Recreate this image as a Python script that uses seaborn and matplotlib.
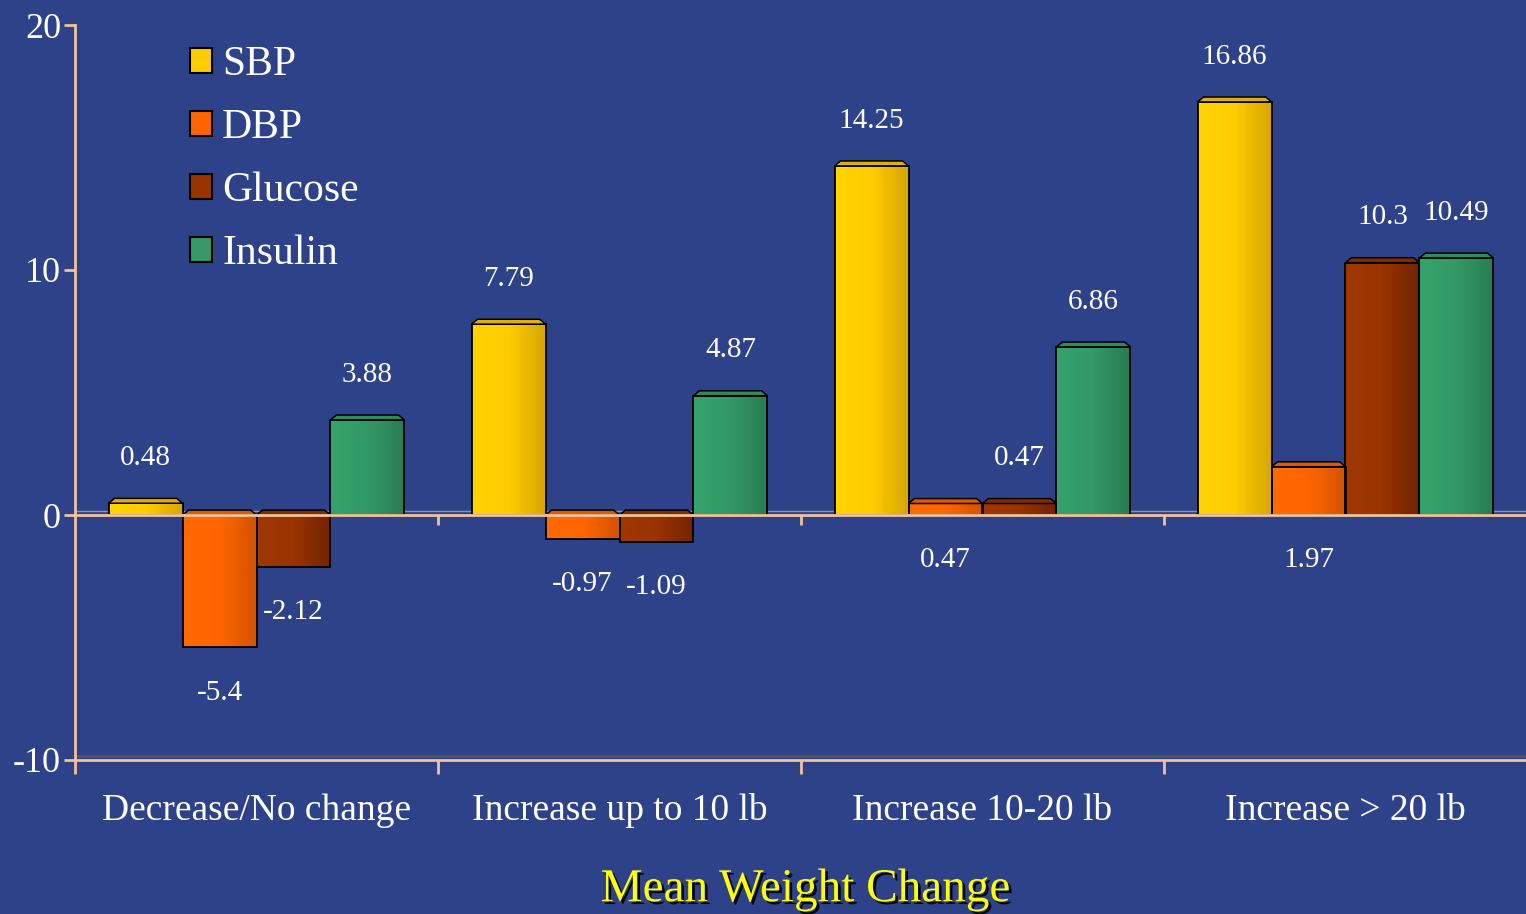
import numpy as np
import pandas as pd
import seaborn as sns
import matplotlib.pyplot as plt
import matplotlib.patheffects as pe
from matplotlib.patches import Patch, Polygon
from matplotlib.colors import LinearSegmentedColormap

# data
categories = ["Decrease/No change", "Increase up to 10 lb", "Increase 10-20 lb", "Increase > 20 lb"]
series = ["SBP", "DBP", "Glucose", "Insulin"]
sbp = [0.48, 7.79, 14.25, 16.86]
dbp = [-5.4, -0.97, 0.47, 1.97]
glucose = [-2.12, -1.09, 0.47, 10.3]
insulin = [3.88, 4.87, 6.86, 10.49]
y_ticks = [-10, 0, 10, 20]

# colours: flat colour for legend, left/right shades for the bar gradient
colors = ["#FFCC00", "#FF6600", "#993300", "#339966"]
left_shade = ["#FFD400", "#FF6A00", "#A03800", "#35A36C"]
right_shade = ["#D6A600", "#D45200", "#742300", "#287D52"]
cap_shade = ["#E0B000", "#E05A00", "#852B00", "#2E8B5C"]

bg = "#2D4288"
axis_col = "#F2C49A"
font = ["Liberation Serif", "DejaVu Serif"]

df = pd.DataFrame({
    "category": np.repeat(categories, len(series)),
    "series": series * len(categories),
    "value": np.array([sbp, dbp, glucose, insulin]).T.ravel(),
})

sns.set_theme(style="white")
plt.rcParams["font.family"] = font

W, H = 1526, 914
fig = plt.figure(figsize=(W / 100, H / 100), dpi=100)
fig.patch.set_facecolor(bg)
ax = fig.add_axes([75 / W, 154 / H, 1452 / W, 735 / H])
ax.set_facecolor(bg)

sns.barplot(data=df, x="category", y="value", hue="series", order=categories,
            hue_order=series, palette=colors, width=0.815, edgecolor="black",
            linewidth=1.3, legend=False, ax=ax, zorder=3)

# cylinder-ish shading on each bar and a small top cap
for i, container in enumerate(ax.containers):
    cmap = LinearSegmentedColormap.from_list(series[i], [left_shade[i], colors[i], right_shade[i]])
    for bar in container:
        x0, w = bar.get_x(), bar.get_width()
        y0, h = bar.get_y(), bar.get_height()
        img = ax.imshow(np.linspace(0, 1, 64)[None, :], cmap=cmap, aspect="auto",
                        extent=(x0, x0 + w, y0, y0 + h), zorder=2.5,
                        interpolation="bicubic")
        img.set_clip_path(bar)
        bar.set_facecolor("none")
        top = max(y0 + h, y0)
        cap = Polygon([(x0, top), (x0 + 0.08 * w, top + 0.2),
                       (x0 + w - 0.08 * w, top + 0.2), (x0 + w, top)],
                      closed=True, facecolor=cap_shade[i], edgecolor="black",
                      linewidth=1.1, zorder=3.5)
        ax.add_patch(cap)

        # value labels
        v = h
        if series[i] == "DBP":
            ly = min(v, 0) - 1.85
        else:
            ly = v + 1.85 if v >= 0 else v - 1.85
        ax.text(x0 + w / 2, ly, f"{v:g}", ha="center", va="center",
                color="white", fontsize=21, family=font, zorder=5)

ax.set_xlim(-0.5, len(categories) - 0.5)
ax.set_ylim(-10, 20)

# zero line, floor line and boundary ticks
ax.axhline(0.15, color="#8C93AA", lw=1, zorder=1)
ax.axhline(0, color=axis_col, lw=2, zorder=4)
ax.axhline(-9.85, color="#555555", lw=2, zorder=1)
bounds = np.arange(len(categories) + 1) - 0.5
ax.vlines(bounds[1:-1], -0.4, 0, color=axis_col, lw=2, zorder=4)

for side in ["top", "right"]:
    ax.spines[side].set_visible(False)
for side in ["left", "bottom"]:
    ax.spines[side].set_color(axis_col)
    ax.spines[side].set_linewidth(2)

ax.set_yticks(y_ticks)
ax.set_yticklabels([str(t) for t in y_ticks], color="white", fontsize=26, family=font)
ax.tick_params(axis="y", direction="out", length=8, width=2, color=axis_col, pad=2, left=True)

ax.set_xticks(range(len(categories)))
ax.set_xticklabels(categories, color="white", fontsize=27, family=font)
ax.tick_params(axis="x", length=0, pad=24)
ax.set_xticks(bounds, minor=True)
ax.tick_params(axis="x", which="minor", direction="out", length=10, width=2,
               color=axis_col, bottom=True)
ax.set_xlabel("")
ax.set_ylabel("")

handles = [Patch(facecolor=c, edgecolor="black", linewidth=1.5) for c in colors]
leg = ax.legend(handles, series, loc="upper left", bbox_to_anchor=(0.079, 0.972),
                frameon=False, fontsize=30, handlelength=0.53, handleheight=0.53,
                handletextpad=0.25, labelspacing=0.59, borderpad=0, borderaxespad=0)
for t in leg.get_texts():
    t.set_color("white")
    t.set_family(font)

fig.text(806 / W, 1 - 890 / H, "Mean Weight Change", ha="center", va="center",
         color="#FFFF00", fontsize=34, family=font,
         path_effects=[pe.withSimplePatchShadow(offset=(2, -2), shadow_rgbFace="black", alpha=0.9)])

fig.savefig("out.png", dpi=100, facecolor=bg)
